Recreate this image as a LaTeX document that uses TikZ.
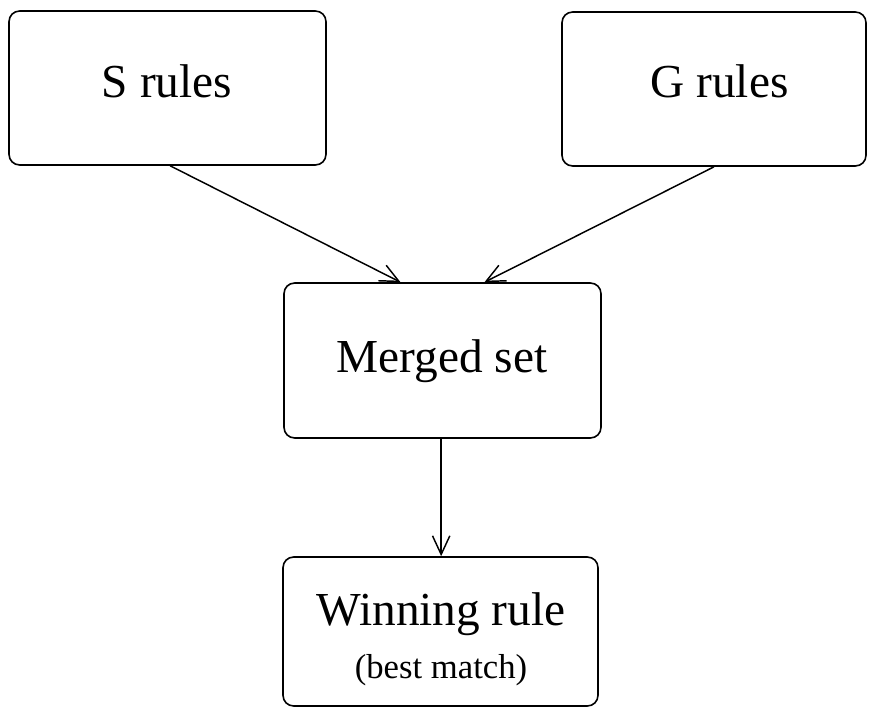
\documentclass[tikz,border=0pt]{standalone}
\usepackage{fontspec}
\setmainfont{Liberation Serif}
\usetikzlibrary{arrows.meta}
\begin{document}
\begin{tikzpicture}[x=0.75pt,y=-0.75pt,
  box/.style={draw, line width=1.2pt, rounded corners=8pt, inner sep=0pt, anchor=center},
  conn/.style={line width=1.1pt, -{Straight Barb[length=14pt,width=13pt,line width=1.1pt]}},
  big/.style={font=\fontsize{35.5}{42}\selectfont},
  small/.style={font=\fontsize{26}{31}\selectfont}]
\useasboundingbox (0,0) rectangle (871,709);
\node[box, minimum width=317*0.75pt, minimum height=154*0.75pt] (S) at (167.5,88) {};
\node[box, minimum width=304*0.75pt, minimum height=154*0.75pt] (G) at (714,89) {};
\node[box, minimum width=317*0.75pt, minimum height=155*0.75pt] (M) at (442.5,360.5) {};
\node[box, minimum width=315*0.75pt, minimum height=149*0.75pt] (W) at (440.5,631.5) {};
\node[big, anchor=base] (St) at (167,98) {S rules};
\node[big, anchor=base] (Gt) at (719.5,98) {G rules};
\node[big, anchor=base] (Mt) at (442,372) {Merged set};
\node[big, anchor=base] (Wt) at (441,625) {Winning rule};
\node[small, anchor=base] (Wb) at (441,678) {(best match)};
\draw[conn] ([xshift=2pt]S.south) -- ([xshift=-31.5pt]M.north);
\draw[conn] (G.south) -- ([xshift=31.5pt]M.north);
\draw[conn] ([xshift=-1pt]M.south) -- ([xshift=-1pt]M.south |- W.north);
\end{tikzpicture}
\end{document}
